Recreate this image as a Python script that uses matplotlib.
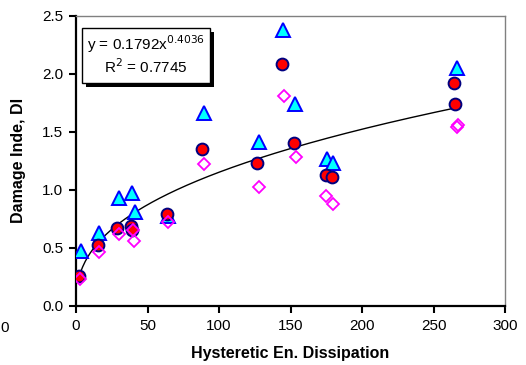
import numpy as np
import matplotlib
matplotlib.use("Agg")
import matplotlib.pyplot as plt
from matplotlib.patches import Rectangle

plt.rcParams['font.family'] = ['Liberation Sans', 'DejaVu Sans']

# Data
circ_x = [2, 15.5, 29, 38.3, 39, 63.3, 88.3, 126.4, 144, 152.4, 174.5, 178.8, 264.1, 265]
circ_y = [0.257, 0.52, 0.67, 0.69, 0.65, 0.786, 1.35, 1.23, 2.08, 1.40, 1.13, 1.11, 1.92, 1.737]

tri_x = [3.3, 16.1, 30, 39.5, 41.3, 64, 89.4, 127.7, 145, 153.3, 175.3, 180, 266.2]
tri_y = [0.468, 0.625, 0.93, 0.97, 0.81, 0.77, 1.66, 1.41, 2.375, 1.737, 1.26, 1.23, 2.05]

dia_x = [3.1, 16.1, 30, 39.7, 40.9, 64, 89.4, 127.7, 145.2, 153.6, 174.9, 179.5, 266.2, 266.8]
dia_y = [0.226, 0.464, 0.616, 0.65, 0.556, 0.717, 1.217, 1.02, 1.81, 1.28, 0.944, 0.875, 1.54, 1.555]

# Power trendline coefficients shown on the chart
fit_a = 0.1792
fit_b = 0.4036
fit_xmin, fit_xmax = 2, 265

x_ticks = [0, 50, 100, 150, 200, 250, 300]
y_ticks = [0.0, 0.5, 1.0, 1.5, 2.0, 2.5]

fig = plt.figure(figsize=(5.26, 3.65), dpi=100)
ax = fig.add_axes([76/526, 1-305.5/365, (505-76)/526, (305.5-15.7)/365])

xf = np.linspace(fit_xmin, fit_xmax, 300)
ax.plot(xf, fit_a * xf ** fit_b, color='black', lw=1.0, zorder=2)

ax.plot(tri_x, tri_y, linestyle='none', marker='^', ms=10, mfc='#00ffff',
        mec='#0000ff', mew=1.4, zorder=3)
ax.plot(circ_x, circ_y, linestyle='none', marker='o', ms=8.5, mfc='#ff0000',
        mec='#000080', mew=1.4, zorder=4)
ax.plot(dia_x, dia_y, linestyle='none', marker='D', ms=6.5, mfc='none',
        mec='#ff00ff', mew=1.3, zorder=5)

ax.set_xlim(0, 300)
ax.set_ylim(0, 2.5)
ax.set_xticks(x_ticks)
ax.set_yticks(y_ticks)
ax.set_xticklabels([str(v) for v in x_ticks])
ax.set_yticklabels([f"{v:.1f}" for v in y_ticks])
ax.tick_params(axis='both', direction='out', length=5, width=1.5, labelsize=11,
               colors='black')
ax.tick_params(axis='x', pad=5)
ax.tick_params(axis='y', pad=4)

for s in ['left', 'bottom']:
    ax.spines[s].set_color('black')
    ax.spines[s].set_linewidth(1.6)
for s in ['top', 'right']:
    ax.spines[s].set_color('#808080')
    ax.spines[s].set_linewidth(1.0)

ax.set_xlabel('Hysteretic En. Dissipation', fontsize=11.5, fontweight='bold', labelpad=9)
ax.set_ylabel('Damage Inde, DI', fontsize=11.5, fontweight='bold', labelpad=12)

# Equation box with shadow
bx0, by0, bw, bh = 82, 28, 128, 55
shadow = Rectangle(((bx0 + 4)/526, 1-(by0 + bh + 4)/365), bw/526, bh/365,
                   transform=fig.transFigure, facecolor='black', edgecolor='none', zorder=6)
box = Rectangle((bx0/526, 1-(by0 + bh)/365), bw/526, bh/365,
                transform=fig.transFigure, facecolor='white', edgecolor='black', lw=1.0, zorder=7)
fig.add_artist(shadow)
fig.add_artist(box)
fig.text((bx0 + bw/2)/526, 1-44/365, r'y = 0.1792x$^{0.4036}$', ha='center', va='center',
         fontsize=11, zorder=8)
fig.text((bx0 + bw/2)/526, 1-67/365, r'R$^{2}$ = 0.7745', ha='center', va='center',
         fontsize=11, zorder=8)

fig.text(0/526, 1-328/365, '0', ha='left', va='center', fontsize=11)

fig.savefig('out.png', dpi=100)
